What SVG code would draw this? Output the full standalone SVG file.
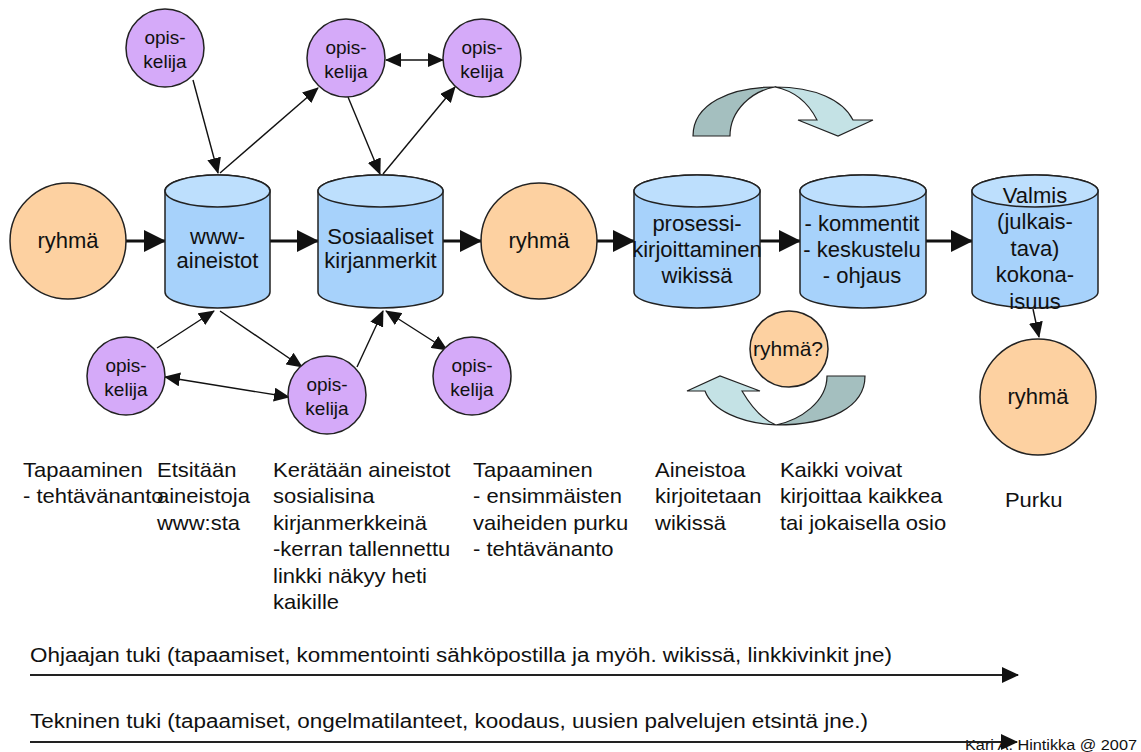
<svg xmlns="http://www.w3.org/2000/svg" width="1141" height="752" viewBox="0 0 1141 752">
<style>
text{font-family:"Liberation Sans",Arial,sans-serif;fill:#111}
.n{font-size:22px;text-anchor:middle}
.o{font-size:19px;text-anchor:middle}
.b{font-size:20px}
.ring{stroke:#222;stroke-width:1.5}
.or{fill:#fdd1a1}
.pu{fill:#d5aaf9}
.cylb{fill:#a7d2fb;stroke:#222;stroke-width:1.5}
.cylt{fill:#bddffd;stroke:#222;stroke-width:1.5}
.thick{stroke:#111;stroke-width:3.2;fill:none;marker-end:url(#big)}
.thin{stroke:#111;stroke-width:1.4;fill:none;marker-end:url(#sm)}
.dbl{marker-start:url(#sm)}
.long{stroke:#222;stroke-width:2.2;fill:none;marker-end:url(#lg)}
</style>
<defs>
<marker id="big" markerUnits="userSpaceOnUse" markerWidth="22" markerHeight="22" viewBox="0 0 22 22" refX="21" refY="11" orient="auto"><path d="M0,0L22,11L0,22Z" fill="#111"/></marker>
<marker id="sm" markerUnits="userSpaceOnUse" markerWidth="16" markerHeight="14" viewBox="0 0 16 14" refX="15" refY="7" orient="auto-start-reverse"><path d="M0,0L16,7L0,14Z" fill="#111"/></marker>
<marker id="lg" markerUnits="userSpaceOnUse" markerWidth="17" markerHeight="16" viewBox="0 0 17 16" refX="16" refY="8" orient="auto"><path d="M0,0L17,8L0,16Z" fill="#111"/></marker>
</defs>

<g id="curved-arrows">
<path d="M693,136 C693,104 730,87 775,87 C752,91 730,110 730,136 Z" fill="#a4bfbf" stroke="#222" stroke-width="1.2"/>
<path d="M775,87 C815,87 843,100 853,120 L873,120 L838,136 L798,120 L817,120 C808,102 795,91 775,87 Z" fill="#c4e2e5" stroke="#222" stroke-width="1.2"/>
<path d="M865,376 C865,407 830,425 776,425 C800,420 827,402 827,376 Z" fill="#a4bfbf" stroke="#222" stroke-width="1.2"/>
<path d="M776,425 C740,423 712,410 705,391 L687,391 L720,376 L760,391 L742,391 C752,408 763,420 776,425 Z" fill="#c4e2e5" stroke="#222" stroke-width="1.2"/>
</g>

<g id="connectors">
<line class="thick" x1="126" y1="241" x2="165" y2="241"/>
<line class="thick" x1="270" y1="241" x2="318" y2="241"/>
<line class="thick" x1="443" y1="241" x2="481" y2="241"/>
<line class="thick" x1="597" y1="241" x2="634" y2="241"/>
<line class="thick" x1="760" y1="241" x2="800" y2="241"/>
<line class="thick" x1="926" y1="241" x2="972" y2="241"/>
<line class="thin" x1="193" y1="80" x2="218" y2="173"/>
<line class="thin" x1="220" y1="173" x2="318" y2="88"/>
<line class="thin dbl" x1="386" y1="60" x2="443" y2="60"/>
<line class="thin" x1="348" y1="97" x2="380" y2="174"/>
<line class="thin" x1="383" y1="174" x2="455" y2="87"/>
<line class="thin" x1="157" y1="348" x2="214" y2="311"/>
<line class="thin" x1="220" y1="311" x2="302" y2="367"/>
<line class="thin dbl" x1="165" y1="377" x2="289" y2="397"/>
<line class="thin" x1="357" y1="367" x2="383" y2="311"/>
<line class="thin dbl" x1="386" y1="311" x2="447" y2="350"/>
<line class="thin" x1="1033" y1="309" x2="1039" y2="337"/>
</g>

<g id="ryhma1"><circle class="ring or" cx="68" cy="241" r="58"/><text class="n" x="68" y="248">ryhmä</text></g>

<g id="www">
<path class="cylb" d="M165,191 V292 A52.5,16 0 0 0 270,292 V191 A52.5,16 0 0 0 165,191 Z"/>
<ellipse class="cylt" cx="217.5" cy="191" rx="52.5" ry="16"/>
<text class="n" x="217.5" y="244">www-</text><text class="n" x="217.5" y="268">aineistot</text>
</g>

<g id="sosiaaliset">
<path class="cylb" d="M318,191 V292 A62.5,16 0 0 0 443,292 V191 A62.5,16 0 0 0 318,191 Z"/>
<ellipse class="cylt" cx="380.5" cy="191" rx="62.5" ry="16"/>
<text class="n" x="380.5" y="244">Sosiaaliset</text><text class="n" x="380.5" y="268">kirjanmerkit</text>
</g>

<g id="ryhma2"><circle class="ring or" cx="539" cy="241" r="58"/><text class="n" x="539" y="248">ryhmä</text></g>

<g id="prosessi">
<path class="cylb" d="M634,191 V292 A63,16 0 0 0 760,292 V191 A63,16 0 0 0 634,191 Z"/>
<ellipse class="cylt" cx="697" cy="191" rx="63" ry="16"/>
<text class="n" x="697" y="231">prosessi-</text><text class="n" x="697" y="257">kirjoittaminen</text><text class="n" x="697" y="283">wikissä</text>
</g>

<g id="kommentit">
<path class="cylb" d="M800,191 V292 A63,16 0 0 0 926,292 V191 A63,16 0 0 0 800,191 Z"/>
<ellipse class="cylt" cx="863" cy="191" rx="63" ry="16"/>
<text class="n" x="862" y="231">- kommentit</text><text class="n" x="862" y="257">- keskustelu</text><text class="n" x="862" y="283">- ohjaus</text>
</g>

<g id="valmis">
<path class="cylb" d="M972,191 V292 A63,16 0 0 0 1098,292 V191 A63,16 0 0 0 972,191 Z"/>
<ellipse class="cylt" cx="1035" cy="191" rx="63" ry="16"/>
<text class="n" x="1035" y="203">Valmis</text><text class="n" x="1035" y="229">(julkais-</text><text class="n" x="1035" y="256">tava)</text><text class="n" x="1035" y="282">kokona-</text><text class="n" x="1035" y="309">isuus</text>
</g>

<g id="ryhma3"><circle class="ring or" cx="1038" cy="397" r="58"/><text class="n" x="1038" y="404">ryhmä</text></g>

<g id="ryhma-q"><ellipse class="ring or" cx="789" cy="349" rx="39" ry="38"/><text class="n" style="font-size:21px" x="788" y="356">ryhmä?</text></g>

<g id="opis1"><circle class="ring pu" cx="165" cy="48" r="39"/><text class="o" x="165" y="44">opis-</text><text class="o" x="165" y="68">kelija</text></g>
<g id="opis2"><circle class="ring pu" cx="346" cy="58" r="39"/><text class="o" x="346" y="54">opis-</text><text class="o" x="346" y="78">kelija</text></g>
<g id="opis3"><circle class="ring pu" cx="482" cy="58" r="39"/><text class="o" x="482" y="54">opis-</text><text class="o" x="482" y="78">kelija</text></g>
<g id="opis4"><circle class="ring pu" cx="126" cy="376" r="39"/><text class="o" x="126" y="372">opis-</text><text class="o" x="126" y="396">kelija</text></g>
<g id="opis5"><circle class="ring pu" cx="327" cy="395" r="39"/><text class="o" x="327" y="391">opis-</text><text class="o" x="327" y="415">kelija</text></g>
<g id="opis6"><circle class="ring pu" cx="472" cy="376" r="39"/><text class="o" x="472" y="372">opis-</text><text class="o" x="472" y="396">kelija</text></g>

<g id="phase-texts" transform="scale(1.1,1)">
<text class="b" x="20.9" y="477">Tapaaminen</text>
<text class="b" x="20.9" y="503.5">- tehtävänanto</text>
<text class="b" x="142.7" y="477">Etsitään</text>
<text class="b" x="142.7" y="503.5">aineistoja</text>
<text class="b" x="142.7" y="530">www:sta</text>
<text class="b" x="248.2" y="477">Kerätään aineistot</text>
<text class="b" x="248.2" y="503.5">sosialisina</text>
<text class="b" x="248.2" y="530">kirjanmerkkeinä</text>
<text class="b" x="248.2" y="556.5">-kerran tallennettu</text>
<text class="b" x="248.2" y="583">linkki näkyy heti</text>
<text class="b" x="248.2" y="609.5">kaikille</text>
<text class="b" x="430" y="477">Tapaaminen</text>
<text class="b" x="430" y="503.5">- ensimmäisten</text>
<text class="b" x="430" y="530">vaiheiden purku</text>
<text class="b" x="430" y="556.5">- tehtävänanto</text>
<text class="b" x="595.5" y="477">Aineistoa</text>
<text class="b" x="595.5" y="503.5">kirjoitetaan</text>
<text class="b" x="595.5" y="530">wikissä</text>
<text class="b" x="709" y="477">Kaikki voivat</text>
<text class="b" x="709" y="503.5">kirjoittaa kaikkea</text>
<text class="b" x="709" y="530">tai jokaisella osio</text>
<text class="b" x="913.6" y="507">Purku</text>
</g>

<g id="support">
<text class="b" x="30" y="662" textLength="862" lengthAdjust="spacingAndGlyphs">Ohjaajan tuki (tapaamiset, kommentointi sähköpostilla ja myöh. wikissä, linkkivinkit jne)</text>
<line class="long" x1="30" y1="675" x2="1018" y2="675"/>
<text class="b" x="30" y="728" textLength="838" lengthAdjust="spacingAndGlyphs">Tekninen tuki (tapaamiset, ongelmatilanteet, koodaus, uusien palvelujen etsintä jne.)</text>
<text x="965" y="750" style="font-size:14px" textLength="172" lengthAdjust="spacingAndGlyphs">Kari A. Hintikka @ 2007</text>
<line class="long" x1="30" y1="742" x2="1017" y2="742"/>
</g>
</svg>
